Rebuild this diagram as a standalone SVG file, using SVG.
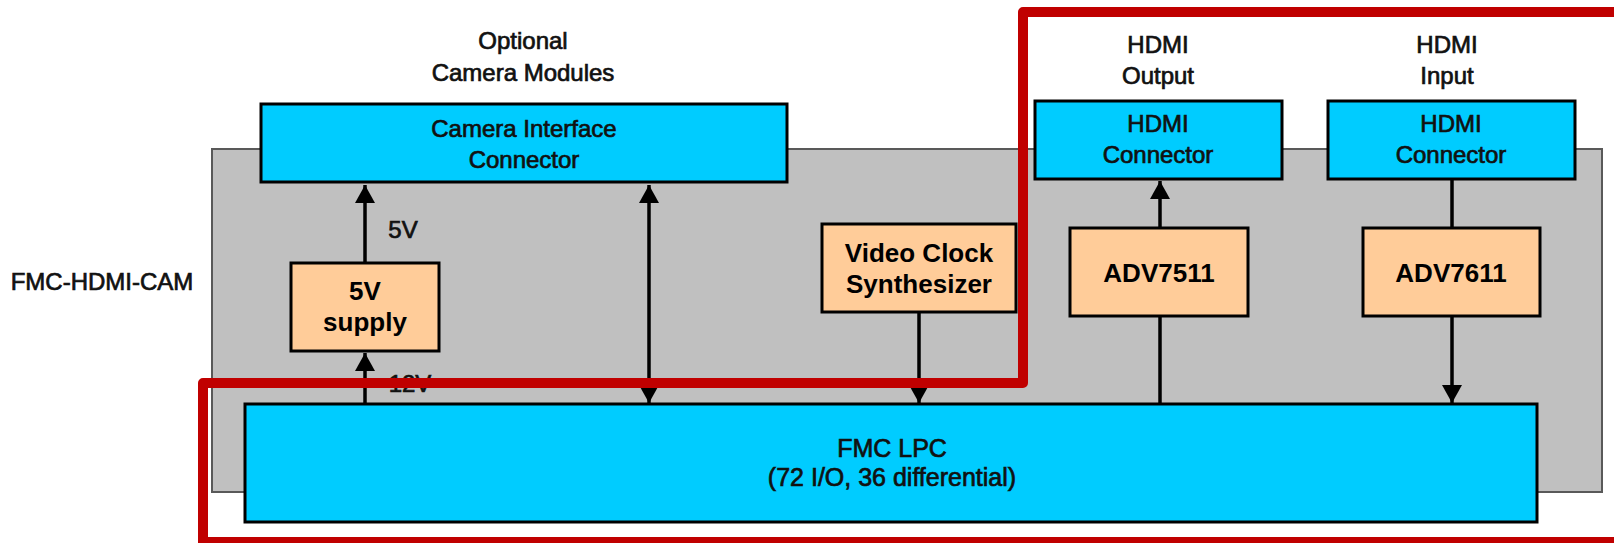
<svg xmlns="http://www.w3.org/2000/svg" width="1614" height="543" viewBox="0 0 1614 543">
<style>
.bg{fill:#C0C0C0;stroke:#595959;stroke-width:2}
.cy{fill:#00CCFF;stroke:#000;stroke-width:3}
.or{fill:#FFCC99;stroke:#000;stroke-width:3}
.ln{stroke:#000;stroke-width:3.5;fill:none}
.t{font-family:"Liberation Sans",Arial,sans-serif;font-size:24px;fill:#111;text-anchor:middle;stroke:#111;stroke-width:0.7}
.b{font-family:"Liberation Sans",Arial,sans-serif;font-size:26px;font-weight:bold;fill:#000;text-anchor:middle}
.red{fill:none;stroke:#C00000;stroke-width:10;stroke-linejoin:round}
</style>
<defs>
<marker id="ah" viewBox="0 0 18 20" refX="18" refY="10" markerWidth="18" markerHeight="20" markerUnits="userSpaceOnUse" orient="auto-start-reverse">
<path d="M0,0 L18,10 L0,20 z" fill="#000"/>
</marker>
</defs>
<rect width="1614" height="543" fill="#fff"/>
<g id="board">
<rect class="bg" x="212" y="149" width="1390" height="343"/>
<text class="t" x="102" y="290">FMC-HDMI-CAM</text>
</g>
<g id="camera-label">
<text class="t" x="523" y="49">Optional</text>
<text class="t" x="523" y="81">Camera Modules</text>
</g>
<g id="hdmi-out-label">
<text class="t" x="1158" y="53">HDMI</text>
<text class="t" x="1158" y="84">Output</text>
</g>
<g id="hdmi-in-label">
<text class="t" x="1447" y="53">HDMI</text>
<text class="t" x="1447" y="84">Input</text>
</g>
<g id="camera-connector">
<rect class="cy" x="261" y="104" width="526" height="78"/>
<text class="t" x="524" y="137">Camera Interface</text>
<text class="t" x="524" y="168">Connector</text>
</g>
<g id="hdmi-out-connector">
<rect class="cy" x="1035" y="101" width="247" height="78"/>
<text class="t" x="1158" y="132">HDMI</text>
<text class="t" x="1158" y="163">Connector</text>
</g>
<g id="hdmi-in-connector">
<rect class="cy" x="1328" y="101" width="247" height="78"/>
<text class="t" x="1451" y="132">HDMI</text>
<text class="t" x="1451" y="163">Connector</text>
</g>
<g id="supply5v">
<rect class="or" x="291" y="263" width="148" height="88"/>
<text class="b" x="365" y="300">5V</text>
<text class="b" x="365" y="331">supply</text>
</g>
<g id="video-clock">
<rect class="or" x="822" y="224" width="194" height="88"/>
<text class="b" x="919" y="262">Video Clock</text>
<text class="b" x="919" y="293">Synthesizer</text>
</g>
<g id="adv7511">
<rect class="or" x="1070" y="228" width="178" height="88"/>
<text class="b" x="1159" y="282">ADV7511</text>
</g>
<g id="adv7611">
<rect class="or" x="1363" y="228" width="177" height="88"/>
<text class="b" x="1451" y="282">ADV7611</text>
</g>
<g id="fmc-lpc">
<rect class="cy" x="245" y="404" width="1292" height="118"/>
<text class="t" x="892" y="457" style="font-size:25px">FMC LPC</text>
<text class="t" x="892" y="486" style="font-size:25px">(72 I/O, 36 differential)</text>
</g>
<g id="connectors">
<line class="ln" x1="365" y1="262" x2="365" y2="185" marker-end="url(#ah)"/>
<line class="ln" x1="365" y1="403" x2="365" y2="353" marker-end="url(#ah)"/>
<line class="ln" x1="649" y1="185" x2="649" y2="403" marker-start="url(#ah)" marker-end="url(#ah)"/>
<line class="ln" x1="919" y1="313" x2="919" y2="403" marker-end="url(#ah)"/>
<line class="ln" x1="1160" y1="227" x2="1160" y2="181" marker-end="url(#ah)"/>
<line class="ln" x1="1160" y1="317" x2="1160" y2="404"/>
<line class="ln" x1="1452" y1="180" x2="1452" y2="228"/>
<line class="ln" x1="1452" y1="317" x2="1452" y2="403" marker-end="url(#ah)"/>
<text class="t" x="403" y="238">5V</text>
<text class="t" x="410" y="392">12V</text>
</g>
<g id="highlight">
<path class="red" d="M1625,12 L1023,12 L1023,383 L203,383 L203,542 L1625,542"/>
</g>
</svg>
